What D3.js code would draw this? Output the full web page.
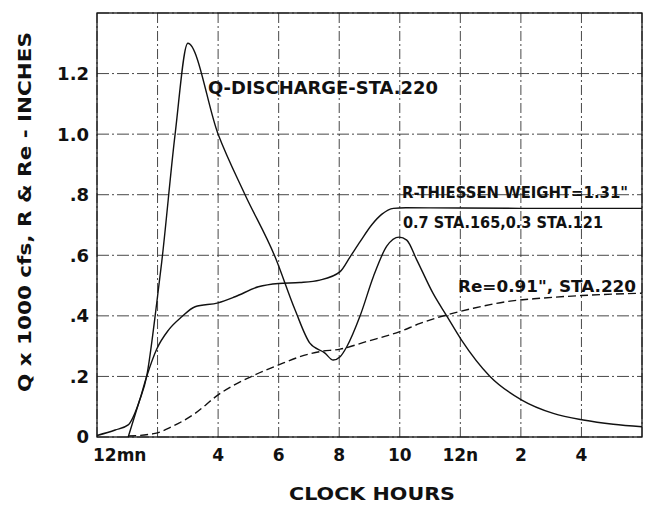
<!DOCTYPE html>
<html>
<head>
<meta charset="utf-8">
<script src="https://cdn.jsdelivr.net/npm/d3@7"></script>
<style>
  body { margin: 0; background: #fff; }
  text { font-family: "DejaVu Sans", sans-serif; font-weight: bold; fill: #111; }
</style>
</head>
<body>
<div id="chart"></div>
<script>
// Data (hours after midnight)
const qHours = [1.03, 1.37, 1.64, 1.97, 2.14, 2.58, 3.0, 4.0, 4.89, 5.88, 6.54, 7.03, 7.53, 7.8, 8.03, 8.25, 8.69, 9.13, 9.57, 9.98, 10.23, 10.56, 11.1, 11.55, 12.04, 12.98, 14.03, 15.07, 16.06, 17.05, 18];
const qValues = [0, 0.11, 0.2, 0.44, 0.58, 1.0, 1.30, 1.0, 0.80, 0.595, 0.42, 0.31, 0.277, 0.254, 0.265, 0.298, 0.40, 0.53, 0.63, 0.66, 0.65, 0.585, 0.474, 0.40, 0.32, 0.20, 0.122, 0.078, 0.056, 0.042, 0.034];

const rHours = [0, 0.6, 1.03, 1.37, 1.64, 1.97, 2.36, 2.8, 3.24, 4.0, 4.56, 5.33, 6.0, 6.7, 7.36, 8.03, 8.36, 8.69, 9.07, 9.4, 9.79, 10.2, 12, 14, 16, 18];
const rValues = [0.005, 0.023, 0.04, 0.11, 0.2, 0.29, 0.353, 0.397, 0.43, 0.443, 0.463, 0.496, 0.507, 0.51, 0.518, 0.546, 0.595, 0.645, 0.70, 0.735, 0.755, 0.757, 0.756, 0.755, 0.755, 0.755];

const reHours = [1.03, 1.92, 2.47, 3.24, 4.0, 5.1, 6.0, 6.7, 7.36, 8.03, 8.9, 10.0, 10.67, 11.55, 12.43, 13.53, 14.63, 16, 18];
const reValues = [0.003, 0.012, 0.034, 0.078, 0.139, 0.2, 0.238, 0.265, 0.282, 0.29, 0.315, 0.348, 0.375, 0.403, 0.425, 0.447, 0.458, 0.467, 0.475];

const xTicks = [0, 2, 4, 6, 8, 10, 12, 14, 16, 18];
const xTickLabels = { 0: "12mn", 4: "4", 6: "6", 8: "8", 10: "10", 12: "12n", 14: "2", 16: "4" };
const yTicks = [0, 0.2, 0.4, 0.6, 0.8, 1.0, 1.2, 1.4];
const yTickLabels = { 0: "0", 0.2: ".2", 0.4: ".4", 0.6: ".6", 0.8: ".8", 1.0: "1.0", 1.2: "1.2" };

// Chart dimensions
const margin = { top: 13, right: 4, bottom: 73, left: 97 };
const width = 646 - margin.left - margin.right;
const height = 510 - margin.top - margin.bottom;

const svg = d3.select("#chart")
  .append("svg")
  .attr("width", 646)
  .attr("height", 510)
  .append("g")
  .attr("transform", `translate(${margin.left},${margin.top})`);

const x = d3.scaleLinear().domain([0, 18]).range([0, width]);
const y = d3.scaleLinear().domain([0, 1.4]).range([height, 0]);

// Grid lines (drafting style dash-dot)
svg.append("g")
  .selectAll("line")
  .data(xTicks)
  .enter()
  .append("line")
  .attr("x1", d => x(d)).attr("x2", d => x(d))
  .attr("y1", 0).attr("y2", height)
  .attr("stroke", "#333")
  .attr("stroke-width", 0.9)
  .attr("stroke-dasharray", "10,3,2,3");

svg.append("g")
  .selectAll("line")
  .data(yTicks)
  .enter()
  .append("line")
  .attr("x1", 0).attr("x2", width)
  .attr("y1", d => y(d)).attr("y2", d => y(d))
  .attr("stroke", "#333")
  .attr("stroke-width", 0.9)
  .attr("stroke-dasharray", "12,3,2,3");

// Frame
svg.append("rect")
  .attr("x", 0).attr("y", 0)
  .attr("width", width).attr("height", height)
  .attr("fill", "none")
  .attr("stroke", "#111")
  .attr("stroke-width", 1.3);

// Tick labels
svg.append("g")
  .selectAll("text")
  .data(yTicks.filter(d => yTickLabels[d] !== undefined))
  .enter()
  .append("text")
  .attr("x", -8)
  .attr("y", d => y(d))
  .attr("dy", "0.36em")
  .attr("text-anchor", "end")
  .style("font-size", "18px")
  .text(d => yTickLabels[d]);

svg.append("g")
  .selectAll("text")
  .data(xTicks.filter(d => xTickLabels[d] !== undefined))
  .enter()
  .append("text")
  .attr("x", d => d === 0 ? x(d) - 4 : x(d))
  .attr("y", height + 18)
  .attr("dy", "0.36em")
  .attr("text-anchor", d => d === 0 ? "start" : "middle")
  .style("font-size", "17px")
  .text(d => xTickLabels[d]);

// Axis titles
svg.append("text")
  .attr("x", 275)
  .attr("y", 487)
  .attr("text-anchor", "middle")
  .attr("textLength", 166)
  .attr("lengthAdjust", "spacingAndGlyphs")
  .style("font-size", "17px")
  .text("CLOCK HOURS");

svg.append("text")
  .attr("transform", `translate(${25 - margin.left},${212 - margin.top}) rotate(-90)`)
  .attr("text-anchor", "middle")
  .attr("dy", "0.36em")
  .attr("textLength", 360)
  .attr("lengthAdjust", "spacingAndGlyphs")
  .style("font-size", "17px")
  .text("Q x 1000 cfs,  R & Re - INCHES");

// Curves
const line = d3.line()
  .x(d => x(d[0]))
  .y(d => y(d[1]))
  .curve(d3.curveMonotoneX);

svg.append("path")
  .datum(d3.zip(qHours, qValues))
  .attr("d", line)
  .attr("fill", "none")
  .attr("stroke", "#111")
  .attr("stroke-width", 1.4);

svg.append("path")
  .datum(d3.zip(rHours, rValues))
  .attr("d", line)
  .attr("fill", "none")
  .attr("stroke", "#111")
  .attr("stroke-width", 1.4);

svg.append("path")
  .datum(d3.zip(reHours, reValues))
  .attr("d", line)
  .attr("fill", "none")
  .attr("stroke", "#111")
  .attr("stroke-width", 1.4)
  .attr("stroke-dasharray", "8,4");

// Curve labels
const labels = [
  { text: "Q-DISCHARGE-STA.220", x: 208, y: 88, len: 230, size: 17 },
  { text: "R-THIESSEN WEIGHT=1.31\"", x: 402, y: 193, len: 226, size: 15 },
  { text: "0.7 STA.165,0.3 STA.121", x: 403, y: 222, len: 200, size: 16 },
  { text: "Re=0.91\", STA.220", x: 458, y: 286, len: 178, size: 16 }
];

svg.append("g")
  .selectAll("text")
  .data(labels)
  .enter()
  .append("text")
  .attr("x", d => d.x - margin.left)
  .attr("y", d => d.y - margin.top)
  .attr("dy", "0.36em")
  .attr("textLength", d => d.len)
  .attr("lengthAdjust", "spacingAndGlyphs")
  .style("font-size", d => d.size + "px")
  .text(d => d.text);
</script>
</body>
</html>
